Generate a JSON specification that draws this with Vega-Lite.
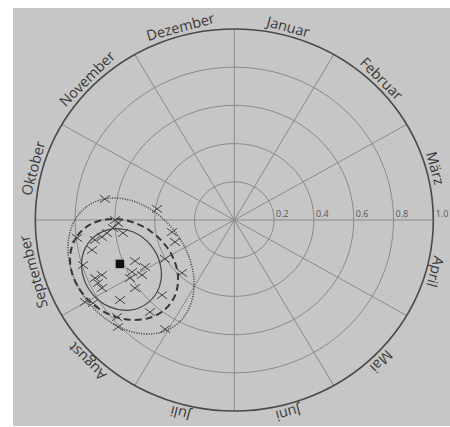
{
  "$schema": "https://vega.github.io/schema/vega-lite/v6.json",
  "width": 437,
  "height": 418,
  "padding": {"left": 13, "top": 8, "right": 0, "bottom": 1},
  "autosize": {"type": "none"},
  "background": "white",
  "config": {"view": {"fill": "#c6c6c6", "stroke": null}},
  "encoding": {
    "x": {"field": "x", "type": "quantitative", "scale": {"domain": [-1.1121, 1.0839], "nice": false, "zero": false}, "axis": null},
    "y": {"field": "y", "type": "quantitative", "scale": {"domain": [-1.0785, 1.1099], "nice": false, "zero": false}, "axis": null}
  },
  "layer": [
    {
      "data": {"values": [
        {"x": 0, "y": 0, "r": 0.2},
        {"x": 0, "y": 0, "r": 0.4},
        {"x": 0, "y": 0, "r": 0.6},
        {"x": 0, "y": 0, "r": 0.8}
      ]},
      "mark": {"type": "point", "shape": "M -1 0 A 1 0.96 0 1 1 1 0 A 1 0.96 0 1 1 -1 0 Z", "filled": false, "color": "#8a8a8a", "strokeWidth": 1, "opacity": 1},
      "encoding": {"size": {"field": "r", "type": "quantitative", "scale": {"type": "pow", "exponent": 2, "domain": [0, 1], "range": [0, 158404]}, "legend": null}}
    },
    {
      "data": {"values": [
        {"x": 0, "y": 1, "x2": 0, "y2": -1},
        {"x": 0.5, "y": 0.866, "x2": -0.5, "y2": -0.866},
        {"x": 0.866, "y": 0.5, "x2": -0.866, "y2": -0.5},
        {"x": 1, "y": 0, "x2": -1, "y2": 0},
        {"x": 0.866, "y": -0.5, "x2": -0.866, "y2": 0.5},
        {"x": 0.5, "y": -0.866, "x2": -0.5, "y2": 0.866}
      ]},
      "mark": {"type": "rule", "color": "#8a8a8a", "strokeWidth": 1},
      "encoding": {"x2": {"field": "x2"}, "y2": {"field": "y2"}}
    },
    {
      "data": {"values": [{"x": 0, "y": 0, "r": 1}]},
      "mark": {"type": "point", "shape": "M -1 0 A 1 0.96 0 1 1 1 0 A 1 0.96 0 1 1 -1 0 Z", "filled": false, "color": "#4a4a4a", "strokeWidth": 1.6, "opacity": 1},
      "encoding": {"size": {"field": "r", "type": "quantitative", "scale": {"type": "pow", "exponent": 2, "domain": [0, 1], "range": [0, 158404]}, "legend": null}}
    },
    {
      "data": {"values": [{"x": -0.519, "y": -0.241, "r": 0.372}]},
      "mark": {"type": "point", "shape": "M -0.602 -0.799 A 1 0.754 53 1 1 0.602 0.799 A 1 0.754 53 1 1 -0.602 -0.799 Z", "filled": false, "color": "#505050", "strokeWidth": 1.5, "strokeDash": [1.2, 1.3], "opacity": 1},
      "encoding": {"size": {"field": "r", "type": "quantitative", "scale": {"type": "pow", "exponent": 2, "domain": [0, 1], "range": [0, 158404]}, "legend": null}}
    },
    {
      "data": {"values": [{"x": -0.554, "y": -0.259, "r": 0.289}]},
      "mark": {"type": "point", "shape": "M -0.812 -0.584 A 1 0.809 35.7 1 1 0.812 0.584 A 1 0.809 35.7 1 1 -0.812 -0.584 Z", "filled": false, "color": "#383838", "strokeWidth": 2, "strokeDash": [7, 4], "opacity": 1},
      "encoding": {"size": {"field": "r", "type": "quantitative", "scale": {"type": "pow", "exponent": 2, "domain": [0, 1], "range": [0, 158404]}, "legend": null}}
    },
    {
      "data": {"values": [{"x": -0.567, "y": -0.259, "r": 0.2136}]},
      "mark": {"type": "point", "shape": "M -0.633 -0.774 A 1 0.88 50.7 1 1 0.633 0.774 A 1 0.88 50.7 1 1 -0.633 -0.774 Z", "filled": false, "color": "#454545", "strokeWidth": 1.2, "opacity": 1},
      "encoding": {"size": {"field": "r", "type": "quantitative", "scale": {"type": "pow", "exponent": 2, "domain": [0, 1], "range": [0, 158404]}, "legend": null}}
    },
    {
      "data": {"values": [
        {"x": -0.650, "y": 0.110}, {"x": -0.388, "y": 0.058}, {"x": -0.599, "y": 0.000},
        {"x": -0.584, "y": -0.016}, {"x": -0.610, "y": -0.042}, {"x": -0.559, "y": -0.068},
        {"x": -0.640, "y": -0.068}, {"x": -0.665, "y": -0.089}, {"x": -0.700, "y": -0.105},
        {"x": -0.790, "y": -0.094}, {"x": -0.715, "y": -0.157}, {"x": -0.313, "y": -0.063},
        {"x": -0.298, "y": -0.115}, {"x": -0.499, "y": -0.215}, {"x": -0.449, "y": -0.246},
        {"x": -0.348, "y": -0.204}, {"x": -0.263, "y": -0.277}, {"x": -0.514, "y": -0.272},
        {"x": -0.464, "y": -0.288}, {"x": -0.524, "y": -0.304}, {"x": -0.760, "y": -0.236},
        {"x": -0.665, "y": -0.288}, {"x": -0.700, "y": -0.304}, {"x": -0.685, "y": -0.330},
        {"x": -0.665, "y": -0.356}, {"x": -0.499, "y": -0.356}, {"x": -0.363, "y": -0.393},
        {"x": -0.574, "y": -0.419}, {"x": -0.750, "y": -0.429}, {"x": -0.710, "y": -0.435},
        {"x": -0.424, "y": -0.482}, {"x": -0.589, "y": -0.508}, {"x": -0.584, "y": -0.560},
        {"x": -0.348, "y": -0.571}
      ]},
      "mark": {"type": "point", "shape": "M -1 -0.75 L 1 0.75 M -1 0.75 L 1 -0.75", "size": 100, "filled": false, "color": "#444444", "strokeWidth": 1, "opacity": 1}
    },
    {
      "data": {"values": [{"x": -0.575, "y": -0.230}]},
      "mark": {"type": "point", "shape": "square", "size": 72, "filled": true, "color": "#111111", "opacity": 1}
    },
    {
      "data": {"values": [
        {"x": 0.264, "y": 0.985, "angle": 15, "month": "Januar"},
        {"x": 0.721, "y": 0.721, "angle": 45, "month": "Februar"},
        {"x": 0.985, "y": 0.264, "angle": 75, "month": "März"},
        {"x": 0.985, "y": -0.264, "angle": 105, "month": "April"},
        {"x": 0.721, "y": -0.721, "angle": 135, "month": "Mai"},
        {"x": 0.264, "y": -0.985, "angle": 165, "month": "Juni"},
        {"x": -0.264, "y": -0.985, "angle": 195, "month": "Juli"},
        {"x": -0.721, "y": -0.721, "angle": 225, "month": "August"},
        {"x": -0.985, "y": -0.264, "angle": 255, "month": "September"},
        {"x": -0.985, "y": 0.264, "angle": 285, "month": "Oktober"},
        {"x": -0.721, "y": 0.721, "angle": 315, "month": "November"},
        {"x": -0.264, "y": 0.985, "angle": 345, "month": "Dezember"}
      ]},
      "mark": {"type": "text", "font": "Open Sans", "fontSize": 14.5, "color": "#3a3a3a", "align": "center", "baseline": "alphabetic"},
      "encoding": {
        "text": {"field": "month"},
        "angle": {"field": "angle", "type": "quantitative", "scale": null}
      }
    },
    {
      "data": {"values": [
        {"x": 0.21, "y": 0.016, "label": "0.2"},
        {"x": 0.41, "y": 0.016, "label": "0.4"},
        {"x": 0.61, "y": 0.016, "label": "0.6"},
        {"x": 0.81, "y": 0.016, "label": "0.8"},
        {"x": 1.012, "y": 0.016, "label": "1.0"}
      ]},
      "mark": {"type": "text", "font": "Open Sans", "fontSize": 9, "color": "#555555", "align": "left", "baseline": "alphabetic"},
      "encoding": {"text": {"field": "label"}}
    }
  ]
}
